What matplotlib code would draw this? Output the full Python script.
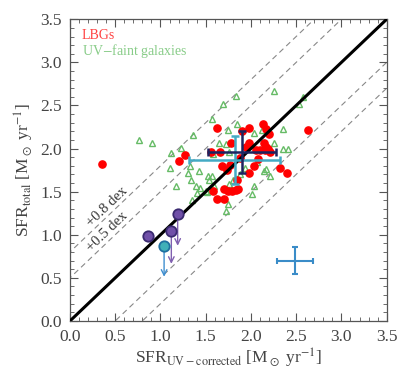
import matplotlib
matplotlib.use("Agg")
import matplotlib.pyplot as plt
import numpy as np

plt.rcParams['font.family'] = ['Liberation Serif', 'DejaVu Serif']
plt.rcParams['mathtext.fontset'] = 'stix'

# LBGs (red filled circles)
lbg_x = [0.35, 1.62, 1.98, 2.13, 2.17, 2.20, 2.63, 1.90, 1.27, 1.20,
         1.78, 1.98, 1.94, 1.66, 1.56, 2.14, 2.17, 2.19, 2.06, 2.10,
         2.15, 2.21, 1.88, 2.08, 2.03, 1.68, 1.98, 2.32, 2.40, 1.85,
         1.58, 1.70, 1.75, 1.79, 1.83, 1.62, 1.70, 1.77, 1.74, 1.86]
lbg_y = [1.82, 2.24, 2.24, 2.29, 2.23, 2.17, 2.22, 2.20, 1.93, 1.85,
         2.07, 2.06, 2.02, 1.96, 1.96, 2.07, 2.02, 2.00, 1.98, 1.98,
         1.98, 1.96, 1.89, 1.88, 1.80, 1.80, 1.72, 1.78, 1.72, 1.64,
         1.51, 1.53, 1.51, 1.51, 1.52, 1.42, 1.41, 1.81, 1.75, 1.53]

# UV-faint galaxies (green open triangles)
uvf_x = [1.84, 2.25, 1.69, 2.57, 2.53, 1.57, 1.36, 0.76, 0.91, 1.85,
         1.75, 2.35, 2.12, 2.03, 1.23, 1.12, 1.65, 1.72, 1.58, 1.76,
         1.99, 2.25, 2.35, 2.41, 1.33, 1.10, 1.43, 1.30, 1.52, 1.57,
         1.54, 1.34, 1.17, 1.39, 1.44, 1.50, 1.59, 1.76, 2.03, 2.01,
         1.75, 1.35, 2.14, 2.17, 2.21, 2.07, 1.93, 1.88, 1.80, 1.72,
         1.40, 1.51]
uvf_y = [2.61, 2.67, 2.52, 2.60, 2.52, 2.34, 2.16, 2.10, 2.06, 2.29,
         2.21, 2.23, 2.21, 2.18, 2.01, 1.95, 2.07, 2.05, 1.94, 1.96,
         2.07, 2.06, 1.99, 2.00, 1.80, 1.78, 1.74, 1.72, 1.68, 1.68,
         1.64, 1.64, 1.56, 1.56, 1.54, 1.51, 1.56, 1.59, 1.57, 1.47,
         1.36, 1.40, 1.74, 1.76, 1.68, 1.84, 1.78, 1.71, 1.64, 1.27,
         1.48, 1.50]

# upper limits (purple) and one cyan upper limit
lim_x = [0.86, 1.12, 1.19]
lim_y = [0.99, 1.04, 1.24]
lim_arrow = [None, 0.41, 0.40]
cyan_x, cyan_y, cyan_arrow = 1.04, 0.87, 0.39

# mean error crosses
navy_xy, navy_err = (1.90, 1.96), (0.38, 0.24)
teal_xy, teal_err = (1.82, 1.87), (0.50, 0.28)
typ_xy, typ_err = (2.49, 0.70), (0.20, 0.16)

offsets = [0.8, 0.5, -0.5, -0.8]

fig = plt.figure(figsize=(4.07, 3.78), dpi=100)
ax = fig.add_axes([0.172, 0.151, 0.778, 0.798])

xx = np.array([-1, 5])
for off in offsets:
    ax.plot(xx, xx + off, color='#888888', lw=0.8, dashes=(5, 3.5), zorder=1)
ax.plot(xx, xx, color='black', lw=2.2, zorder=4)

ax.plot(uvf_x, uvf_y, '^', ms=5, mfc='none', mec='#66bb66', mew=1.0, zorder=2)
ax.plot(lbg_x, lbg_y, 'o', ms=5.2, color='#ff0000', mec='#ff0000', zorder=3)

ax.errorbar(*teal_xy, xerr=teal_err[0], yerr=teal_err[1], color='#44aac4',
            lw=1.8, capsize=3, capthick=1.8, zorder=5)
ax.errorbar(*navy_xy, xerr=navy_err[0], yerr=navy_err[1], color='#1c2460',
            lw=1.8, capsize=3, capthick=1.8, zorder=6)
ax.errorbar(*typ_xy, xerr=typ_err[0], yerr=typ_err[1], color='#3a8cc8',
            lw=1.5, capsize=2.5, capthick=1.5, zorder=5)

for x, y, a in zip(lim_x, lim_y, lim_arrow):
    if a is not None:
        ax.annotate('', xy=(x, y - a), xytext=(x, y),
                    arrowprops=dict(arrowstyle='->', color='#8060b0', lw=1.0),
                    zorder=6)
ax.annotate('', xy=(cyan_x, cyan_y - cyan_arrow), xytext=(cyan_x, cyan_y),
            arrowprops=dict(arrowstyle='->', color='#3f8fd0', lw=1.0), zorder=6)
ax.plot(lim_x, lim_y, 'o', ms=7.5, mfc='#7050a8', mec='#3a2a70', mew=1.3, zorder=7)
ax.plot(cyan_x, cyan_y, 'o', ms=7.5, mfc='#40b0b8', mec='#2070a0', mew=1.3, zorder=7)

ang = np.degrees(np.arctan2(86.2, 90.5))
ax.text(0.41, 1.33, '+0.8 dex', rotation=ang, ha='center', va='center',
        fontsize=10.5, color='#333333')
ax.text(0.41, 1.04, '+0.5 dex', rotation=ang, ha='center', va='center',
        fontsize=10.5, color='#333333')

ax.text(0.037, 0.967, 'LBGs', transform=ax.transAxes, color='#ff4040',
        fontsize=10, va='top')
ax.text(0.037, 0.925, 'UV$-$faint galaxies', transform=ax.transAxes,
        color='#88cc88', fontsize=10, va='top')

ax.set_xlim(0, 3.5)
ax.set_ylim(0, 3.5)
ticks = np.arange(0, 3.51, 0.5)
ax.set_xticks(ticks)
ax.set_yticks(ticks)
ax.set_xticks(np.arange(0, 3.51, 0.1), minor=True)
ax.set_yticks(np.arange(0, 3.51, 0.1), minor=True)
ax.set_xticklabels(['%.1f' % t for t in ticks])
ax.set_yticklabels(['%.1f' % t for t in ticks])
ax.tick_params(which='both', direction='in', top=True, right=True,
               color='#555555', labelcolor='#444444', labelsize=12.5)
ax.tick_params(which='major', length=6)
ax.tick_params(which='minor', length=3)
ax.tick_params(axis='x', pad=6)
ax.tick_params(axis='y', pad=6)
for s in ax.spines.values():
    s.set_color('#555555')
    s.set_linewidth(0.9)

ax.set_xlabel(r'SFR$_{\rm UV-corrected}$ [M$_\odot$ yr$^{-1}$]',
              fontsize=12.5, color='#444444', labelpad=1)
ax.set_ylabel(r'SFR$_{\rm total}$ [M$_\odot$ yr$^{-1}$]',
              fontsize=12.5, color='#444444', labelpad=3)

fig.savefig('out.png', dpi=100)
